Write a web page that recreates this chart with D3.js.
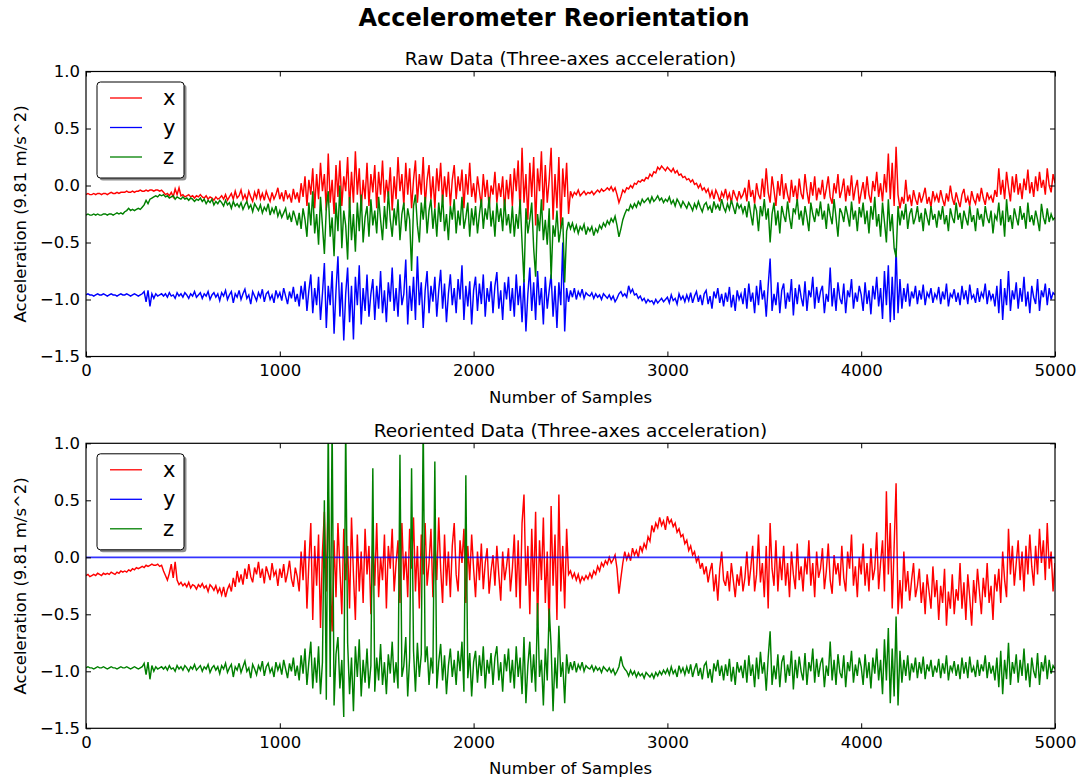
<!DOCTYPE html>
<html>
<head>
<meta charset="utf-8">
<script src="https://cdn.jsdelivr.net/npm/d3@7"></script>
<style>
  body { margin: 0; background: #fff; }
  text { font-family: "DejaVu Sans", sans-serif; fill: #000; }
</style>
</head>
<body>
<svg id="chart" width="1080" height="779"></svg>
<script>
// Accelerometer readings, one value every 10 samples (0 .. 5000), in units of g.
// Each row holds 100 samples.
const sampleStep = 10;

const rawX = [
  -0.08,-0.07,-0.08,-0.08,-0.07,-0.08,-0.07,-0.07,-0.08,-0.07,
  -0.07,-0.08,-0.07,-0.06,-0.07,-0.07,-0.06,-0.07,-0.06,-0.06,
  -0.06,-0.05,-0.06,-0.06,-0.05,-0.06,-0.05,-0.05,-0.04,-0.05,
  -0.05,-0.04,-0.05,-0.04,-0.04,-0.05,-0.04,-0.04,-0.05,-0.04,
  -0.06,-0.08,-0.07,-0.09,-0.06,-0.10,-0.03,-0.08,-0.02,-0.09,
  -0.08,-0.10,-0.09,-0.08,-0.10,-0.09,-0.11,-0.09,-0.10,-0.08,
  -0.10,-0.11,-0.09,-0.12,-0.10,-0.11,-0.13,-0.10,-0.12,-0.11,
  -0.09,-0.12,-0.08,-0.13,-0.10,-0.07,-0.12,-0.05,-0.11,-0.09,
  -0.04,-0.12,-0.08,-0.13,-0.05,-0.10,-0.14,-0.06,-0.11,-0.03,
  -0.12,-0.07,-0.13,-0.05,-0.10,-0.14,-0.06,-0.12,-0.08,-0.02,
  -0.12,-0.06,-0.14,-0.04,-0.11,-0.08,-0.15,-0.03,-0.12,-0.06,
  -0.15,0.02,-0.10,0.08,-0.18,0.05,-0.08,0.15,-0.20,0.10,
  -0.12,0.20,-0.05,0.10,-0.22,0.28,-0.15,0.05,-0.25,0.18,
  -0.10,0.22,-0.18,0.08,-0.05,0.25,-0.20,0.12,-0.15,0.30,
  -0.08,0.15,-0.22,0.05,-0.12,0.20,-0.18,0.10,-0.06,0.18,
  -0.20,0.12,-0.08,0.22,-0.15,0.05,-0.10,0.16,-0.22,0.08,
  -0.12,0.25,-0.05,0.10,-0.18,0.20,-0.08,0.15,-0.20,0.05,
  0.22,-0.15,0.10,-0.08,0.25,-0.18,0.05,0.18,-0.12,0.08,
  -0.20,0.15,-0.05,0.20,-0.15,0.08,-0.10,0.12,-0.18,0.05,
  0.18,-0.12,0.08,-0.05,0.14,-0.20,0.10,-0.08,0.20,-0.10,
  0.02,-0.15,0.08,-0.05,-0.18,0.10,-0.10,0.05,-0.20,0.00,
  -0.08,0.12,-0.15,0.02,-0.10,0.08,-0.22,0.05,-0.12,0.10,
  -0.18,0.15,-0.05,0.22,-0.25,0.33,-0.15,0.10,-0.30,0.20,
  -0.10,0.25,-0.35,0.15,-0.05,0.30,-0.22,0.18,-0.15,0.05,
  0.33,-0.30,0.10,-0.20,0.25,-0.38,0.15,-0.10,0.20,-0.25,
  -0.05,-0.10,-0.06,-0.08,-0.04,-0.09,-0.07,-0.05,-0.08,-0.06,
  -0.07,-0.05,-0.08,-0.06,-0.04,-0.06,-0.03,-0.05,-0.04,-0.02,
  -0.04,-0.01,-0.05,-0.02,-0.08,-0.15,-0.10,-0.04,-0.06,-0.02,
  -0.03,0.00,-0.02,0.02,0.01,0.04,0.03,0.05,0.04,0.07,
  0.06,0.10,0.08,0.12,0.11,0.16,0.14,0.17,0.15,0.13,
  0.16,0.14,0.12,0.15,0.11,0.13,0.09,0.10,0.07,0.08,
  0.05,0.06,0.03,0.05,0.01,0.02,-0.02,0.01,-0.04,-0.02,
  -0.06,-0.03,-0.10,-0.05,-0.12,-0.04,-0.08,-0.14,-0.06,-0.10,
  -0.03,-0.12,-0.07,-0.15,-0.04,-0.09,-0.13,-0.05,-0.11,-0.08,
  -0.02,-0.14,0.05,-0.10,-0.04,-0.16,0.02,-0.08,-0.12,0.06,
  -0.10,0.15,-0.06,-0.15,0.08,-0.04,-0.18,0.04,-0.09,0.10,
  -0.12,0.02,-0.08,-0.15,0.05,-0.10,0.00,-0.14,0.06,-0.07,
  -0.12,0.10,-0.05,-0.16,0.03,-0.09,0.08,-0.13,-0.02,-0.08,
  0.05,-0.12,-0.03,0.08,-0.10,-0.16,0.02,-0.07,0.10,-0.11,
  -0.04,0.06,-0.14,0.00,-0.09,0.09,-0.13,-0.02,0.05,-0.16,
  -0.06,0.03,-0.12,0.08,-0.08,-0.15,0.04,-0.05,0.12,-0.10,
  0.02,-0.14,0.10,-0.06,0.28,-0.12,0.20,-0.18,0.34,-0.08,
  -0.20,-0.10,-0.16,0.05,-0.14,-0.08,-0.18,-0.04,-0.12,-0.17,
  -0.06,-0.15,-0.09,-0.02,-0.16,-0.10,-0.19,-0.05,-0.13,-0.08,
  -0.15,-0.04,-0.12,-0.18,-0.07,-0.14,0.00,-0.11,-0.17,-0.06,
  -0.13,-0.19,-0.08,-0.03,-0.15,-0.10,-0.18,-0.05,-0.12,-0.16,
  -0.07,-0.14,-0.02,-0.11,-0.17,-0.06,-0.12,-0.09,-0.15,-0.04,
  -0.10,0.15,-0.08,0.05,-0.12,0.12,-0.02,-0.14,0.08,-0.06,
  0.10,-0.08,0.02,-0.12,0.06,-0.04,0.14,-0.07,0.03,-0.10,
  0.08,-0.05,0.12,-0.02,0.05,-0.08,0.15,0.00,-0.06,0.10,
  0.02
];

const rawY = [
  -0.96,-0.95,-0.96,-0.96,-0.97,-0.96,-0.95,-0.96,-0.96,-0.95,
  -0.96,-0.97,-0.96,-0.95,-0.96,-0.96,-0.97,-0.96,-0.95,-0.96,
  -0.96,-0.95,-0.96,-0.97,-0.96,-0.95,-0.96,-0.97,-0.96,-0.95,
  -0.93,-1.02,-0.92,-1.06,-0.95,-0.99,-0.95,-0.97,-0.96,-0.95,
  -0.97,-0.95,-0.98,-0.94,-0.97,-0.96,-0.99,-0.94,-0.97,-0.95,
  -0.98,-0.94,-0.96,-0.99,-0.95,-0.97,-0.93,-0.98,-0.96,-0.94,
  -0.99,-0.95,-0.97,-0.93,-1.00,-0.96,-0.94,-0.98,-0.95,-1.01,
  -0.94,-0.97,-0.92,-1.00,-0.96,-0.93,-1.03,-0.95,-0.98,-0.92,
  -1.00,-0.95,-0.91,-0.99,-0.96,-1.04,-0.93,-0.97,-1.01,-0.94,
  -0.98,-0.91,-1.02,-0.95,-0.93,-1.00,-0.96,-1.03,-0.92,-0.98,
  -0.94,-1.01,-0.90,-0.97,-1.04,-0.93,-0.99,-0.89,-1.02,-0.95,
  -1.06,-0.88,-1.00,-0.84,-1.10,-0.92,-0.78,-1.12,-0.90,-1.05,
  -0.80,-1.18,-0.95,-0.68,-1.25,-0.88,-1.05,-0.75,-1.30,-0.92,
  -0.62,-1.15,-0.85,-1.36,-0.95,-0.72,-1.20,-0.88,-1.35,-0.80,
  -1.05,-0.70,-1.22,-0.90,-1.10,-0.78,-1.15,-0.95,-0.82,-1.18,
  -0.88,-1.08,-0.75,-1.12,-0.92,-1.20,-0.85,-1.02,-0.72,-1.10,
  -0.90,-1.15,-0.78,-1.05,-0.95,-0.65,-1.22,-0.88,-1.10,-0.80,
  -1.18,-0.62,-1.05,-0.85,-1.25,-0.92,-0.75,-1.12,-0.88,-1.02,
  -0.80,-1.15,-0.92,-0.74,-1.08,-0.86,-1.20,-0.95,-0.78,-1.05,
  -0.90,-1.12,-0.82,-1.00,-0.70,-1.18,-0.88,-1.06,-0.84,-1.22,
  -0.92,-0.80,-1.10,-0.86,-1.04,-0.78,-1.15,-0.90,-1.02,-0.84,
  -1.12,-0.88,-0.76,-1.08,-0.92,-1.18,-0.85,-1.00,-0.80,-1.10,
  -0.90,-1.15,-0.78,-1.05,-0.88,-1.20,-0.82,-1.28,-0.95,-0.72,
  -1.10,-0.85,-1.18,-0.75,-1.05,-0.90,-1.22,-0.80,-1.08,-0.92,
  -0.78,-1.15,-0.88,-1.25,-0.85,-1.05,-0.50,-1.28,-0.90,-1.02,
  -0.92,-0.98,-0.90,-1.00,-0.93,-0.97,-0.91,-0.99,-0.94,-0.96,
  -0.97,-0.94,-0.99,-0.95,-0.98,-0.96,-1.00,-0.95,-0.97,-0.99,
  -0.96,-1.00,-0.97,-1.02,-0.99,-0.95,-0.93,-0.97,-0.95,-0.98,
  -0.88,-0.94,-0.91,-0.96,-0.95,-0.99,-0.97,-1.01,-0.99,-1.03,
  -1.00,-1.02,-1.01,-1.04,-1.00,-1.03,-1.01,-0.99,-1.02,-1.00,
  -0.98,-1.03,-0.96,-1.01,-0.99,-1.04,-0.95,-1.00,-0.97,-1.02,
  -0.96,-1.01,-0.94,-1.03,-0.97,-0.93,-1.02,-0.96,-1.05,-0.95,
  -0.92,-1.04,-0.97,-1.08,-0.93,-0.99,-0.90,-1.03,-0.95,-1.06,
  -0.94,-1.02,-0.89,-1.07,-0.96,-1.10,-0.92,-1.00,-0.95,-1.04,
  -0.90,-1.08,-0.86,-1.02,-0.94,-1.12,-0.88,-1.05,-0.83,-1.00,
  -0.92,-1.15,-0.88,-0.64,-1.10,-0.95,-1.05,-0.85,-1.12,-0.92,
  -0.86,-1.08,-0.94,-1.02,-0.82,-1.14,-0.90,-1.04,-0.87,-0.98,
  -1.06,-0.84,-1.10,-0.92,-0.98,-0.80,-1.08,-0.89,-1.03,-0.93,
  -0.88,-1.12,-0.95,-1.02,-0.72,-1.06,-0.90,-1.10,-0.85,-0.99,
  -1.04,-0.86,-1.12,-0.92,-0.98,-0.82,-1.08,-0.94,-1.02,-0.88,
  -0.96,-1.10,-0.85,-1.04,-0.92,-1.13,-0.88,-1.00,-0.80,-1.06,
  -0.90,-1.17,-0.75,-1.05,-0.70,-1.20,-0.80,-1.18,-0.55,-1.12,
  -0.82,-1.08,-0.90,-1.02,-0.86,-1.06,-0.93,-0.99,-0.88,-1.04,
  -0.92,-1.00,-0.87,-1.05,-0.94,-0.98,-0.90,-1.03,-0.95,-0.99,
  -0.89,-1.04,-0.93,-1.00,-0.86,-1.06,-0.95,-0.98,-0.91,-1.02,
  -0.94,-1.05,-0.88,-1.00,-0.92,-1.04,-0.87,-0.99,-0.96,-1.03,
  -0.90,-1.02,-0.94,-0.98,-0.86,-1.04,-0.92,-1.00,-0.95,-1.06,
  -0.88,-1.12,-0.82,-1.18,-0.90,-1.05,-0.75,-1.10,-0.92,-1.00,
  -0.85,-1.08,-0.90,-1.02,-0.80,-1.06,-0.93,-1.12,-0.88,-0.98,
  -1.04,-0.82,-1.10,-0.92,-0.98,-0.86,-1.05,-0.90,-1.00,-0.94,
  -0.96
];

const rawZ = [
  -0.26,-0.25,-0.26,-0.26,-0.25,-0.26,-0.25,-0.26,-0.26,-0.25,
  -0.25,-0.26,-0.25,-0.25,-0.26,-0.25,-0.24,-0.25,-0.24,-0.25,
  -0.23,-0.22,-0.20,-0.22,-0.21,-0.22,-0.21,-0.20,-0.21,-0.19,
  -0.17,-0.13,-0.16,-0.12,-0.11,-0.10,-0.09,-0.10,-0.08,-0.09,
  -0.08,-0.10,-0.09,-0.11,-0.10,-0.09,-0.12,-0.10,-0.11,-0.12,
  -0.10,-0.12,-0.11,-0.13,-0.11,-0.12,-0.14,-0.12,-0.13,-0.11,
  -0.14,-0.12,-0.16,-0.13,-0.15,-0.12,-0.17,-0.14,-0.16,-0.13,
  -0.15,-0.18,-0.13,-0.17,-0.15,-0.20,-0.14,-0.18,-0.16,-0.19,
  -0.15,-0.21,-0.17,-0.14,-0.20,-0.17,-0.23,-0.16,-0.19,-0.22,
  -0.17,-0.24,-0.19,-0.22,-0.16,-0.26,-0.20,-0.24,-0.18,-0.27,
  -0.22,-0.28,-0.24,-0.20,-0.30,-0.25,-0.32,-0.22,-0.28,-0.35,
  -0.24,-0.38,-0.20,-0.30,-0.45,-0.15,-0.35,-0.05,-0.42,-0.25,
  -0.52,-0.10,-0.35,-0.60,-0.20,-0.05,-0.45,-0.28,-0.62,-0.15,
  -0.40,0.00,-0.55,-0.22,-0.35,-0.65,-0.10,-0.48,-0.25,-0.58,
  -0.15,-0.40,-0.08,-0.50,-0.28,-0.18,-0.45,-0.12,-0.35,-0.22,
  -0.42,-0.10,-0.30,-0.48,-0.18,-0.38,-0.05,-0.30,-0.45,-0.20,
  -0.35,-0.12,-0.48,-0.25,-0.15,-0.40,-0.20,-0.30,-0.75,-0.18,
  -0.08,-0.35,-0.50,-0.15,-0.30,-0.10,-0.42,-0.22,-0.12,-0.38,
  -0.20,-0.45,-0.15,-0.32,-0.08,-0.40,-0.25,-0.48,-0.18,-0.30,
  -0.12,-0.42,-0.22,-0.35,-0.10,-0.38,-0.28,-0.15,-0.45,-0.20,
  -0.35,-0.18,-0.42,-0.25,-0.12,-0.38,-0.20,-0.30,-0.10,-0.36,
  -0.22,-0.45,-0.15,-0.32,-0.20,-0.40,-0.12,-0.35,-0.25,-0.42,
  -0.18,-0.45,-0.25,-0.38,-0.12,-0.50,-0.85,-0.20,-0.42,-0.30,
  -0.15,-0.55,-0.80,-0.25,-0.40,-0.12,-0.48,-0.30,-0.52,-0.20,
  -0.82,-0.35,-0.45,-0.22,-0.50,-0.38,-0.28,-0.85,-0.40,-0.32,
  -0.38,-0.33,-0.40,-0.35,-0.42,-0.36,-0.39,-0.34,-0.43,-0.37,
  -0.40,-0.36,-0.44,-0.38,-0.41,-0.35,-0.38,-0.33,-0.36,-0.31,
  -0.34,-0.29,-0.32,-0.27,-0.35,-0.45,-0.38,-0.30,-0.25,-0.21,
  -0.22,-0.17,-0.20,-0.16,-0.19,-0.14,-0.17,-0.12,-0.15,-0.13,
  -0.11,-0.15,-0.10,-0.14,-0.12,-0.09,-0.13,-0.11,-0.15,-0.12,
  -0.14,-0.10,-0.16,-0.13,-0.18,-0.12,-0.15,-0.19,-0.14,-0.17,
  -0.20,-0.15,-0.18,-0.22,-0.16,-0.20,-0.14,-0.19,-0.23,-0.17,
  -0.15,-0.21,-0.18,-0.24,-0.14,-0.20,-0.17,-0.22,-0.12,-0.19,
  -0.23,-0.16,-0.21,-0.13,-0.19,-0.25,-0.15,-0.20,-0.17,-0.24,
  -0.18,-0.28,-0.14,-0.25,-0.35,-0.16,-0.22,-0.40,-0.18,-0.27,
  -0.12,-0.30,-0.20,-0.50,-0.25,-0.15,-0.35,-0.22,-0.42,-0.18,
  -0.26,-0.32,-0.14,-0.28,-0.38,-0.20,-0.24,-0.12,-0.30,-0.22,
  -0.35,-0.18,-0.28,-0.40,-0.15,-0.25,-0.32,-0.20,-0.27,-0.14,
  -0.30,-0.22,-0.38,-0.16,-0.26,-0.34,-0.12,-0.28,-0.45,-0.20,
  -0.24,-0.32,-0.18,-0.26,-0.36,-0.14,-0.30,-0.22,-0.40,-0.19,
  -0.28,-0.15,-0.34,-0.22,-0.42,-0.18,-0.30,-0.10,-0.36,-0.25,
  -0.45,-0.15,-0.32,-0.50,-0.12,-0.40,-0.25,-0.55,-0.63,-0.18,
  -0.35,-0.22,-0.30,-0.16,-0.38,-0.25,-0.20,-0.34,-0.28,-0.18,
  -0.32,-0.24,-0.40,-0.20,-0.28,-0.35,-0.18,-0.30,-0.25,-0.37,
  -0.22,-0.30,-0.18,-0.34,-0.26,-0.40,-0.20,-0.28,-0.33,-0.15,
  -0.30,-0.24,-0.38,-0.22,-0.29,-0.35,-0.18,-0.32,-0.26,-0.40,
  -0.20,-0.30,-0.25,-0.36,-0.18,-0.28,-0.33,-0.22,-0.42,-0.26,
  -0.30,-0.15,-0.35,-0.22,-0.45,-0.12,-0.32,-0.26,-0.38,-0.20,
  -0.28,-0.35,-0.18,-0.30,-0.24,-0.38,-0.15,-0.32,-0.26,-0.35,
  -0.22,-0.30,-0.40,-0.16,-0.28,-0.34,-0.20,-0.32,-0.25,-0.30,
  -0.28
];

const reorientedX = [
  -0.16,-0.15,-0.17,-0.16,-0.15,-0.16,-0.14,-0.15,-0.16,-0.14,
  -0.15,-0.14,-0.15,-0.13,-0.14,-0.15,-0.13,-0.14,-0.12,-0.13,
  -0.12,-0.13,-0.11,-0.12,-0.10,-0.11,-0.09,-0.10,-0.09,-0.08,
  -0.09,-0.07,-0.08,-0.07,-0.06,-0.07,-0.07,-0.06,-0.08,-0.07,
  -0.12,-0.16,-0.20,-0.14,-0.06,-0.18,-0.04,-0.20,-0.24,-0.22,
  -0.25,-0.23,-0.26,-0.22,-0.27,-0.24,-0.25,-0.28,-0.24,-0.26,
  -0.23,-0.27,-0.25,-0.30,-0.24,-0.26,-0.29,-0.25,-0.31,-0.27,
  -0.33,-0.26,-0.35,-0.28,-0.24,-0.30,-0.18,-0.26,-0.12,-0.22,
  -0.15,-0.24,-0.10,-0.19,-0.06,-0.17,-0.22,-0.09,-0.15,-0.04,
  -0.18,-0.10,-0.23,-0.08,-0.14,-0.20,-0.05,-0.16,-0.12,-0.25,
  -0.10,-0.18,-0.06,-0.22,-0.14,-0.03,-0.19,-0.26,-0.09,-0.17,
  -0.30,0.05,-0.20,0.15,-0.45,-0.05,0.30,-0.55,0.10,-0.25,
  0.20,-0.62,0.05,0.40,-0.30,0.55,-0.20,-0.65,0.15,-0.35,
  0.30,-0.10,-0.50,0.25,-0.20,0.10,-0.45,0.35,-0.15,-0.55,
  0.20,-0.30,0.05,-0.40,0.25,-0.15,0.10,-0.50,0.15,-0.25,
  0.30,-0.35,0.00,-0.20,0.20,-0.45,0.10,-0.10,0.25,-0.30,
  -0.05,0.15,-0.40,0.30,-0.20,0.05,-0.35,0.25,-0.10,0.35,
  -0.30,0.10,-0.45,0.20,-0.15,0.30,-0.25,-0.05,0.25,-0.35,
  0.15,-0.20,0.35,-0.10,-0.40,0.20,-0.25,0.05,-0.35,0.10,
  0.30,-0.15,-0.30,0.15,-0.05,0.25,-0.40,0.10,-0.20,0.20,
  -0.10,-0.35,0.05,-0.20,0.12,-0.28,-0.05,0.08,-0.32,-0.12,
  0.02,-0.25,0.10,-0.15,-0.38,0.05,-0.20,-0.08,0.08,-0.30,
  -0.10,0.20,-0.35,0.15,-0.45,0.30,0.55,-0.25,0.10,-0.50,
  0.25,-0.30,0.40,-0.60,0.15,-0.20,0.35,-0.40,0.05,-0.65,
  0.45,-0.25,0.20,-0.55,0.55,-0.30,0.10,-0.45,0.25,-0.15,
  -0.12,-0.18,-0.14,-0.20,-0.15,-0.22,-0.17,-0.20,-0.16,-0.19,
  -0.14,-0.18,-0.12,-0.15,-0.08,-0.12,-0.05,-0.08,-0.03,-0.06,
  0.00,-0.05,-0.02,0.02,-0.10,-0.32,-0.18,-0.05,0.05,-0.02,
  0.03,-0.03,0.08,0.02,0.06,0.00,0.10,0.05,0.12,0.08,
  0.18,0.14,0.28,0.22,0.30,0.26,0.35,0.28,0.32,0.24,
  0.36,0.30,0.33,0.27,0.30,0.22,0.25,0.18,0.20,0.12,
  0.15,0.06,0.10,0.02,0.05,-0.04,0.00,-0.10,-0.05,-0.15,
  -0.08,-0.22,-0.12,-0.05,-0.30,-0.15,-0.38,-0.10,0.05,-0.20,
  -0.25,-0.12,-0.30,-0.05,-0.20,-0.35,-0.15,-0.25,-0.08,-0.30,
  -0.18,0.05,-0.25,-0.10,0.10,-0.30,-0.15,0.20,-0.22,-0.05,
  -0.35,0.10,-0.45,0.30,-0.10,-0.25,0.15,-0.30,0.00,-0.20,
  0.10,-0.25,-0.05,-0.35,0.05,-0.15,-0.28,0.12,-0.20,-0.08,
  -0.30,0.00,-0.15,0.15,-0.25,-0.05,-0.35,0.05,-0.18,-0.10,
  0.08,-0.28,-0.12,0.12,-0.20,-0.32,0.02,-0.15,-0.05,-0.25,
  0.10,-0.18,-0.30,0.05,-0.10,0.20,-0.25,-0.08,-0.35,0.00,
  -0.15,0.12,-0.25,-0.05,-0.30,0.08,-0.20,-0.10,0.22,-0.28,
  -0.05,0.15,-0.30,0.58,-0.15,0.30,-0.45,0.10,0.65,-0.50,
  -0.20,-0.45,0.05,-0.30,-0.12,-0.38,-0.20,-0.05,-0.35,-0.25,
  -0.10,-0.40,-0.22,-0.50,-0.15,-0.30,-0.45,-0.08,-0.35,-0.20,
  -0.55,-0.25,-0.40,-0.10,-0.60,-0.30,-0.45,-0.15,-0.50,-0.28,
  -0.38,-0.05,-0.45,-0.22,-0.55,-0.15,-0.35,-0.60,-0.20,-0.40,
  -0.10,-0.30,-0.50,-0.18,-0.35,-0.05,-0.40,-0.25,-0.55,-0.15,
  -0.30,-0.10,-0.40,0.05,-0.20,-0.35,0.25,-0.15,0.10,-0.25,
  -0.05,0.15,-0.20,0.05,-0.30,0.10,-0.15,0.20,-0.08,-0.25,
  0.10,-0.15,0.25,-0.05,0.15,-0.20,0.30,-0.10,0.05,-0.30,
  -0.05
];

// After reorientation the y axis carries no acceleration.
const reorientedYSamples = [0, 5000];
const reorientedY = [0.00, 0.00];

const reorientedZ = [
  -0.97,-0.96,-0.97,-0.97,-0.98,-0.97,-0.96,-0.97,-0.97,-0.96,
  -0.97,-0.98,-0.97,-0.96,-0.97,-0.97,-0.98,-0.97,-0.96,-0.97,
  -0.97,-0.96,-0.97,-0.98,-0.97,-0.96,-0.97,-0.98,-0.97,-0.96,
  -0.93,-1.03,-0.92,-1.07,-0.95,-1.00,-0.96,-0.98,-0.97,-0.96,
  -0.98,-0.96,-0.99,-0.95,-0.98,-0.97,-1.00,-0.95,-0.98,-0.96,
  -0.99,-0.95,-0.97,-1.00,-0.96,-0.98,-0.94,-0.99,-0.97,-0.95,
  -1.00,-0.96,-0.98,-0.94,-1.01,-0.97,-0.95,-0.99,-0.96,-1.02,
  -0.95,-0.98,-0.93,-1.01,-0.97,-0.94,-1.05,-0.96,-0.99,-0.93,
  -1.01,-0.96,-0.91,-1.00,-0.97,-1.06,-0.94,-0.98,-1.03,-0.95,
  -0.99,-0.91,-1.04,-0.96,-0.93,-1.01,-0.97,-1.05,-0.92,-0.99,
  -0.94,-1.03,-0.90,-0.98,-1.06,-0.93,-1.00,-0.88,-1.04,-0.95,
  -1.08,-0.86,-1.02,-0.80,-1.12,-0.92,-0.74,-1.15,-0.88,-1.10,
  -0.78,-1.20,-0.92,0.50,-1.25,1.20,-1.05,1.20,-1.30,-0.85,
  -0.70,-1.15,-0.90,-1.40,1.20,-0.75,-1.20,-0.88,-1.35,-0.78,
  -1.05,-0.72,-1.22,-0.90,-1.10,-0.80,-1.15,-0.95,0.78,-1.18,
  -0.88,-1.08,-0.76,-1.12,-0.92,-1.20,-0.85,-1.02,-0.74,-1.10,
  -0.92,-1.15,0.90,-1.05,-0.95,-0.70,-1.22,-0.88,0.78,-0.82,
  -1.18,-0.75,-1.05,-0.85,1.20,-0.92,-0.78,-1.12,-0.88,-1.02,
  0.84,-1.15,-0.92,-0.76,-1.08,-0.86,-1.20,-0.95,-0.80,-1.05,
  -0.90,-1.12,-0.82,-1.00,-0.74,-1.18,0.72,-1.06,-0.84,-1.22,
  -0.92,-0.82,-1.10,-0.86,-1.04,-0.78,-1.15,-0.90,-1.02,-0.84,
  -1.12,-0.88,-0.78,-1.08,-0.92,-1.18,-0.85,-1.00,-0.80,-1.10,
  -0.90,-1.15,-0.78,-1.05,-0.88,-1.20,-0.70,-1.28,-0.95,-0.74,
  -1.10,-0.85,-1.18,-0.40,-1.05,-0.90,-1.30,-0.80,-1.08,-0.45,
  -0.78,-1.35,-0.88,-1.15,-0.60,-1.05,-0.92,-1.28,-0.85,-1.02,
  -0.92,-0.99,-0.91,-1.01,-0.94,-0.98,-0.92,-1.00,-0.95,-0.97,
  -0.98,-0.95,-1.00,-0.96,-0.99,-0.97,-1.01,-0.96,-0.98,-1.00,
  -0.97,-1.01,-0.98,-1.03,-1.00,-0.96,-0.87,-0.95,-0.98,-1.00,
  -1.04,-0.99,-1.03,-1.00,-1.05,-1.01,-1.04,-1.02,-1.06,-1.01,
  -1.03,-1.05,-1.02,-1.06,-1.01,-1.04,-1.00,-1.03,-0.99,-1.02,
  -0.98,-1.03,-0.96,-1.02,-0.99,-1.05,-0.95,-1.01,-0.97,-1.03,
  -0.96,-1.02,-0.94,-1.05,-0.98,-0.93,-1.04,-0.97,-1.07,-0.95,
  -0.92,-1.06,-0.98,-1.10,-0.93,-1.00,-0.90,-1.04,-0.95,-1.08,
  -0.94,-1.04,-0.89,-1.09,-0.96,-1.12,-0.92,-1.01,-0.95,-1.06,
  -0.90,-1.10,-0.86,-1.04,-0.94,-1.14,-0.88,-1.07,-0.83,-1.02,
  -0.92,-1.17,-0.88,-0.65,-1.12,-0.95,-1.07,-0.85,-1.14,-0.92,
  -0.86,-1.10,-0.94,-1.04,-0.82,-1.16,-0.90,-1.06,-0.87,-1.00,
  -1.08,-0.84,-1.12,-0.92,-1.00,-0.80,-1.10,-0.89,-1.05,-0.93,
  -0.88,-1.14,-0.95,-1.04,-0.74,-1.08,-0.90,-1.12,-0.85,-1.01,
  -1.06,-0.86,-1.14,-0.92,-1.00,-0.82,-1.10,-0.94,-1.04,-0.88,
  -0.96,-1.12,-0.85,-1.06,-0.92,-1.15,-0.88,-1.02,-0.80,-1.08,
  -0.90,-1.20,-0.72,-1.08,-0.62,-1.28,-0.80,-1.22,-0.52,-1.30,
  -0.82,-1.10,-0.90,-1.04,-0.86,-1.08,-0.93,-1.01,-0.88,-1.06,
  -0.92,-1.02,-0.87,-1.07,-0.94,-1.00,-0.90,-1.05,-0.95,-1.01,
  -0.89,-1.06,-0.93,-1.02,-0.86,-1.08,-0.95,-1.00,-0.91,-1.04,
  -0.94,-1.07,-0.88,-1.02,-0.92,-1.06,-0.87,-1.01,-0.96,-1.05,
  -0.90,-1.04,-0.94,-1.00,-0.86,-1.06,-0.92,-1.02,-0.95,-1.08,
  -0.88,-1.14,-0.82,-1.20,-0.90,-1.07,-0.75,-1.12,-0.92,-1.02,
  -0.85,-1.10,-0.90,-1.04,-0.80,-1.08,-0.93,-1.14,-0.88,-1.00,
  -1.06,-0.84,-1.12,-0.92,-1.00,-0.86,-1.07,-0.90,-1.02,-0.95,
  -0.98
];

const xTicks = [0, 1000, 2000, 3000, 4000, 5000];
const yTicks = [-1.5, -1.0, -0.5, 0.0, 0.5, 1.0];
const axisNames = ["x", "y", "z"];

const seriesColors = { x: "#ff0000", y: "#0000ff", z: "#008000" };

const panels = [
  {
    title: "Raw Data (Three-axes acceleration)",
    top: 71.5,
    series: [
      { name: "x", values: rawX },
      { name: "y", values: rawY },
      { name: "z", values: rawZ }
    ]
  },
  {
    title: "Reoriented Data (Three-axes acceleration)",
    top: 443.3,
    series: [
      { name: "x", values: reorientedX },
      { name: "y", values: reorientedY, samples: reorientedYSamples },
      { name: "z", values: reorientedZ }
    ]
  }
];

const svg = d3.select("#chart");
const left = 86, right = 1055, plotH = 285;

svg.append("text")
  .attr("x", 554).attr("y", 26)
  .attr("text-anchor", "middle")
  .style("font-size", "24px").style("font-weight", "bold")
  .text("Accelerometer Reorientation");

panels.forEach((p, pi) => {
  const top = p.top, bottom = top + plotH;
  const x = d3.scaleLinear().domain([0, 5000]).range([left, right]);
  const y = d3.scaleLinear().domain([-1.5, 1.0]).range([bottom, top]);
  const g = svg.append("g");

  const clipId = "plot-clip-" + pi;
  svg.append("clipPath").attr("id", clipId)
    .append("rect").attr("x", left).attr("y", top)
    .attr("width", right - left).attr("height", plotH);

  const lines = g.append("g").attr("clip-path", `url(#${clipId})`);
  p.series.forEach(s => {
    const pts = s.values.map((v, i) => [s.samples ? s.samples[i] : i * sampleStep, v]);
    lines.append("path")
      .datum(pts)
      .attr("fill", "none")
      .attr("stroke", seriesColors[s.name])
      .attr("stroke-width", s.samples ? 1.7 : 1.45)
      .attr("stroke-opacity", s.samples ? 0.8 : 1)
      .attr("d", d3.line().x(d => x(d[0])).y(d => y(d[1])));
  });

  // inward ticks on all four sides
  const fontTick = "16.5px";
  const bx = g.append("g").attr("transform", `translate(0,${bottom})`)
    .call(d3.axisBottom(x).tickValues(xTicks).tickFormat(d3.format("d"))
      .tickSizeInner(-5).tickSizeOuter(0).tickPadding(8));
  const tx = g.append("g").attr("transform", `translate(0,${top})`)
    .call(d3.axisTop(x).tickValues(xTicks).tickFormat("")
      .tickSizeInner(-5).tickSizeOuter(0));
  const ly = g.append("g").attr("transform", `translate(${left},0)`)
    .call(d3.axisLeft(y).tickValues(yTicks).tickFormat(d3.format(".1f"))
      .tickSizeInner(-5).tickSizeOuter(0).tickPadding(6));
  const ry = g.append("g").attr("transform", `translate(${right},0)`)
    .call(d3.axisRight(y).tickValues(yTicks).tickFormat("")
      .tickSizeInner(-5).tickSizeOuter(0));
  [bx, tx, ly, ry].forEach(a => {
    a.select(".domain").remove();
    a.selectAll("line").attr("stroke", "#000").attr("stroke-width", 1);
    a.selectAll("text").style("font-size", fontTick)
      .style("font-family", '"DejaVu Sans", sans-serif').attr("fill", "#000");
  });

  g.append("rect")
    .attr("x", left).attr("y", top)
    .attr("width", right - left).attr("height", plotH)
    .attr("fill", "none").attr("stroke", "#000").attr("stroke-width", 1.2);

  g.append("text")
    .attr("x", (left + right) / 2).attr("y", top - 6.5)
    .attr("text-anchor", "middle").style("font-size", "18.5px")
    .text(p.title);

  g.append("text")
    .attr("x", (left + right) / 2).attr("y", bottom + 46)
    .attr("text-anchor", "middle").style("font-size", "16.5px")
    .text("Number of Samples");

  g.append("text")
    .attr("transform", `translate(26,${(top + bottom) / 2}) rotate(-90)`)
    .attr("text-anchor", "middle").style("font-size", "16.5px")
    .text("Acceleration (9.81 m/s^2)");

  // legend
  const lg = g.append("g").attr("transform", `translate(97,${top + 10.5})`);
  lg.append("rect").attr("x", 2.5).attr("y", 2.5).attr("width", 87).attr("height", 96)
    .attr("rx", 3.5).attr("fill", "#000").attr("fill-opacity", 0.45);
  lg.append("rect").attr("x", 0).attr("y", 0).attr("width", 87).attr("height", 96)
    .attr("rx", 3.5).attr("fill", "#fff").attr("stroke", "#000").attr("stroke-width", 1);
  axisNames.forEach((n, i) => {
    const cy = 16 + i * 29.5;
    lg.append("line").attr("x1", 13).attr("x2", 45).attr("y1", cy).attr("y2", cy)
      .attr("stroke", seriesColors[n]).attr("stroke-width", 1.3);
    lg.append("text").attr("x", 66).attr("y", cy + 7)
      .style("font-size", "21px").text(n);
  });
});
</script>
</body>
</html>
